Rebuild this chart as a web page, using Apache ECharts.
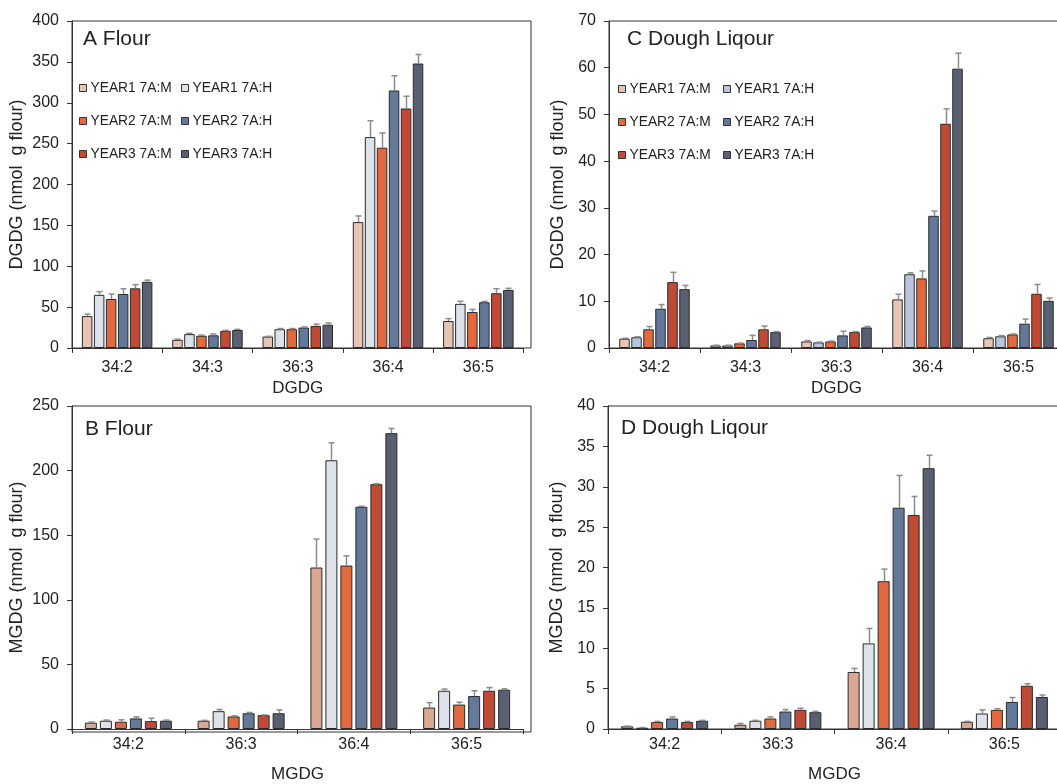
<!DOCTYPE html>
<html>
<head>
<meta charset="utf-8" />
<title>DGDG / MGDG</title>
<script src="https://cdn.jsdelivr.net/npm/echarts@6/dist/echarts.min.js"></script>
<style>
  html, body { margin: 0; padding: 0; background: #fff; overflow: hidden; }
  /* the right-hand panels run past the picture edge, as in the original figure */
  #chart { width: 1070px; height: 784px; }
</style>
</head>
<body>
<div id="chart"></div>
<script>
// categories
var dgdgCats = ['34:2', '34:3', '36:3', '36:4', '36:5'];
var mgdgCats = ['34:2', '36:3', '36:4', '36:5'];
var seriesNames = ['YEAR1 7A:M', 'YEAR1 7A:H', 'YEAR2 7A:M', 'YEAR2 7A:H', 'YEAR3 7A:M', 'YEAR3 7A:H'];

// A Flour, DGDG (one row per series)
var flourDGDG = [
  [39, 10, 14, 154, 33],
  [65, 17, 23, 258, 54],
  [60, 15, 23, 245, 44],
  [66, 15.5, 25, 315, 56],
  [73, 21, 27, 293, 67],
  [81, 22, 28.5, 348, 71]
];
var flourDGDGsd = [
  [2.5, 0.8, 0.3, 7.5, 3],
  [4, 1, 0.8, 20, 3.2],
  [6, 0.8, 0.8, 18, 3.2],
  [6.5, 1.7, 0.8, 18, 1],
  [4.5, 0.5, 2.2, 15, 5.5],
  [2, 0.8, 2, 11, 2]
];

// C Dough Liqour, DGDG
var liqDGDG = [
  [2.0, 0.55, 1.4, 10.4, 2.1],
  [2.3, 0.55, 1.2, 15.8, 2.5],
  [4.0, 1.0, 1.4, 14.9, 2.9],
  [8.4, 1.7, 2.7, 28.3, 5.2],
  [14.1, 4.0, 3.4, 48.0, 11.6],
  [12.6, 3.4, 4.4, 59.8, 10.1]
];
var liqDGDGsd = [
  [0.1, 0.05, 0.2, 1.1, 0.15],
  [0.1, 0.05, 0.05, 0.3, 0.15],
  [0.6, 0.05, 0.1, 1.6, 0.1],
  [0.9, 1.0, 0.9, 1.0, 1.0],
  [2.1, 0.7, 0.1, 3.2, 2.0],
  [0.8, 0.1, 0.2, 3.3, 0.6]
];

// B Flour, MGDG
var flourMGDG = [
  [4.9, 6.4, 125, 16.6],
  [6.4, 13.8, 208, 29.6],
  [5.6, 9.7, 126.5, 18.9],
  [8.2, 12.2, 172, 25.5],
  [6.1, 10.7, 189.5, 29.6],
  [6.4, 12.2, 229, 30.4]
];
var flourMGDGsd = [
  [0.5, 0.3, 22, 3.8],
  [0.5, 1.3, 13.5, 1.3],
  [1.5, 0.5, 7.5, 1.8],
  [1.2, 0.6, 0.4, 4.1],
  [2.3, 0.2, 0.3, 2.5],
  [0.5, 2.6, 3.6, 0.7]
];

// D Dough Liqour, MGDG
var liqMGDG = [
  [0.33, 0.53, 7.06, 0.9],
  [0.16, 1.02, 10.6, 1.92],
  [0.86, 1.3, 18.3, 2.37],
  [1.3, 2.16, 27.4, 3.35],
  [0.86, 2.37, 26.5, 5.35],
  [1.02, 2.08, 32.3, 3.96]
];
var liqMGDGsd = [
  [0.03, 0.15, 0.45, 0.05],
  [0.02, 0.05, 1.85, 0.45],
  [0.08, 0.2, 1.5, 0.15],
  [0.2, 0.25, 4.0, 0.55],
  [0.08, 0.2, 2.3, 0.25],
  [0.05, 0.1, 1.6, 0.25]
];

var colorsA = ['#e7c5b5', '#dde1ea', '#e0693f', '#64799a', '#c04a36', '#5a6072'];
var colorsB = ['#d9a893', '#dde1ea', '#e0693f', '#64799a', '#c04a36', '#5a6072'];
var colorsC = ['#e7c6b6', '#b9c5dc', '#e0693f', '#64799a', '#c04a36', '#5a6072'];

var FONT = 'Liberation Sans, Arial, sans-serif';
var TXT = '#222';

// panels: data grid index, values, sd, colors, bar width, gap between bars
var panels = [
  { axis: 1, vals: flourDGDG, sd: flourDGDGsd, colors: colorsA, bw: 10.5, gap: 1.5 },
  { axis: 3, vals: flourMGDG, sd: flourMGDGsd, colors: colorsB, bw: 12, gap: 3 },
  { axis: 4, vals: liqDGDG, sd: liqDGDGsd, colors: colorsC, bw: 10.5, gap: 1.5 },
  { axis: 5, vals: liqMGDG, sd: liqMGDGsd, colors: colorsB, bw: 12, gap: 3 }
];

function frameAxes(idx) {
  return {
    x: { gridIndex: idx, type: 'value', show: false, min: 0, max: 1 },
    y: { gridIndex: idx, type: 'value', show: false, min: 0, max: 1 }
  };
}

function catAxis(idx, cats, name, labelMargin, nameGap) {
  return {
    gridIndex: idx, type: 'category', data: cats,
    name: name, nameLocation: 'middle', nameGap: nameGap,
    nameTextStyle: { fontFamily: FONT, fontSize: 17, color: TXT },
    axisLine: { lineStyle: { color: '#333', width: 1 } },
    axisTick: { show: true, length: 5, lineStyle: { color: '#333' } },
    axisLabel: { fontFamily: FONT, fontSize: 16, color: TXT, margin: labelMargin },
    splitLine: { show: false }
  };
}

function valAxis(idx, max, interval, name, nameGap) {
  return {
    gridIndex: idx, type: 'value', min: 0, max: max, interval: interval,
    name: name, nameLocation: 'middle', nameGap: nameGap,
    nameTextStyle: { fontFamily: FONT, fontSize: 18, color: TXT },
    axisLine: { show: true, lineStyle: { color: '#333', width: 1 } },
    axisTick: { show: true, length: 5, lineStyle: { color: '#333' } },
    axisLabel: { fontFamily: FONT, fontSize: 16, color: TXT, margin: 13 },
    splitLine: { show: false }
  };
}

var fA = frameAxes(0), fB = frameAxes(2);

var xAxes = [
  fA.x,
  catAxis(1, dgdgCats, 'DGDG', 12, 32),
  fB.x,
  catAxis(3, mgdgCats, 'MGDG', 8, 37),
  catAxis(4, dgdgCats, 'DGDG', 12, 32),
  catAxis(5, mgdgCats, 'MGDG', 8, 37)
];
var yAxes = [
  fA.y,
  valAxis(1, 400, 50, 'DGDG (nmol  g flour)', 46),
  fB.y,
  valAxis(3, 250, 50, 'MGDG (nmol  g flour)', 46),
  valAxis(4, 70, 10, 'DGDG (nmol  g flour)', 42),
  valAxis(5, 40, 5, 'MGDG (nmol  g flour)', 42)
];

var series = [];
panels.forEach(function (p) {
  for (var s = 0; s < seriesNames.length; s++) {
    series.push({
      type: 'bar', name: seriesNames[s],
      xAxisIndex: p.axis, yAxisIndex: p.axis,
      data: p.vals[s], barWidth: p.bw,
      barGap: (p.gap / p.bw * 100) + '%',
      itemStyle: { color: p.colors[s], borderColor: '#2a2a2a', borderWidth: 1 },
      emphasis: { disabled: true },
      animation: false
    });
  }
  var errData = [];
  for (var s2 = 0; s2 < seriesNames.length; s2++) {
    for (var c = 0; c < p.vals[s2].length; c++) {
      errData.push([c, s2, p.vals[s2][c], p.vals[s2][c] + p.sd[s2][c]]);
    }
  }
  var pitch = p.bw + p.gap;
  series.push({
    type: 'custom', name: 'err',
    xAxisIndex: p.axis, yAxisIndex: p.axis,
    data: errData, encode: { x: 0, y: [2, 3] },
    z: 5, silent: true, animation: false,
    renderItem: function (params, api) {
      var cat = api.value(0), si = api.value(1);
      var p0 = api.coord([cat, api.value(2)]);
      var p1 = api.coord([cat, api.value(3)]);
      var x = Math.round(p0[0] + (si - 2.5) * pitch) + 0.5;
      var st = { stroke: '#8c8c8c', lineWidth: 1.5 };
      return {
        type: 'group',
        children: [
          { type: 'line', shape: { x1: x, y1: p0[1], x2: x, y2: p1[1] }, style: st },
          { type: 'line', shape: { x1: x - 3, y1: p1[1], x2: x + 3, y2: p1[1] }, style: st }
        ]
      };
    }
  });
});

function legendCol(left, top, names, colors) {
  return {
    left: left, top: top, orient: 'vertical', padding: 0,
    itemWidth: 7, itemHeight: 7, itemGap: 19,
    icon: 'rect', selectedMode: false,
    textStyle: { fontFamily: FONT, fontSize: 13.8, color: TXT, padding: [0, 0, 0, -1] },
    data: names.map(function (n, i) {
      return { name: n, itemStyle: { color: colors[i], borderColor: '#333', borderWidth: 1 } };
    })
  };
}

function titleAt(text, left, top) {
  return {
    text: text, left: left, top: top, padding: 0,
    textStyle: { fontFamily: FONT, fontSize: 21, fontWeight: 'normal', color: TXT }
  };
}

var mNames = [seriesNames[0], seriesNames[2], seriesNames[4]];
var hNames = [seriesNames[1], seriesNames[3], seriesNames[5]];

var option = {
  backgroundColor: '#fff',
  animation: false,
  title: [
    titleAt('A Flour', 83, 29),
    titleAt('B Flour', 85, 419),
    titleAt('C Dough Liqour', 627, 29),
    titleAt('D Dough Liqour', 621, 418)
  ],
  legend: [
    legendCol(79, 81, mNames, [colorsA[0], colorsA[2], colorsA[4]]),
    legendCol(181, 81, hNames, [colorsA[1], colorsA[3], colorsA[5]]),
    legendCol(618, 82, mNames, [colorsC[0], colorsC[2], colorsC[4]]),
    legendCol(723, 82, hNames, [colorsC[1], colorsC[3], colorsC[5]])
  ],
  grid: [
    { left: 72, top: 21, width: 459, height: 327, show: true, borderColor: '#333', borderWidth: 1, backgroundColor: 'transparent' },
    { left: 72, top: 21, width: 451.5, height: 327 },
    { left: 72, top: 406, width: 459, height: 326, show: true, borderColor: '#333', borderWidth: 1, backgroundColor: 'transparent' },
    { left: 72, top: 406, width: 451, height: 326 },
    { left: 609, top: 21, width: 455, height: 327, show: true, borderColor: '#333', borderWidth: 1, backgroundColor: 'transparent' },
    { left: 608, top: 406, width: 453, height: 326, show: true, borderColor: '#333', borderWidth: 1, backgroundColor: 'transparent' }
  ],
  xAxis: xAxes,
  yAxis: yAxes,
  series: series
};

var myChart = echarts.init(document.getElementById('chart'));
myChart.setOption(option);
</script>
</body>
</html>
